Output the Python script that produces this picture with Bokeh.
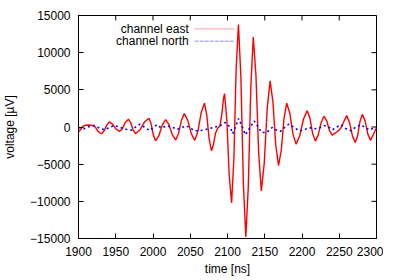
from bokeh.plotting import figure
from bokeh.models import FixedTicker, Range1d, Label, BoxAnnotation
from bokeh.embed import file_html
from bokeh.resources import INLINE

# ---- data ----
east_t = [1900, 1903, 1906, 1909, 1914, 1919, 1922, 1925, 1928, 1931,
          1934.5, 1938, 1941.5, 1946, 1950.5, 1955, 1959, 1963, 1967,
          1970.2, 1973.3, 1976.5, 1982.5, 1988.5, 1994.5, 1997.5, 2000.5,
          2003.5, 2008, 2012.5, 2017, 2021.5, 2026, 2030.5, 2034.3, 2038.2,
          2042, 2046.7, 2051.3, 2056, 2060.3, 2064.7, 2069, 2072.2, 2075.3,
          2078.5, 2081, 2084, 2087, 2090, 2092.5, 2094.5, 2096, 2099.2,
          2102.3, 2105.5, 2108.6, 2111.6, 2114.7, 2118, 2121.3, 2124.6,
          2127.9, 2131.3, 2134.6, 2138.2, 2141.8, 2145.4, 2149.3, 2153.3,
          2157.2, 2161, 2164.7, 2168.5, 2172.2, 2175.8, 2179.5, 2183.7,
          2187.8, 2192, 2197, 2202, 2207, 2210.7, 2214.3, 2218, 2221.8,
          2225.7, 2229.5, 2233.2, 2236.8, 2240.5, 2245, 2250, 2253, 2256.5,
          2260, 2263.8, 2267.7, 2271.5, 2274.7, 2277.8, 2281, 2284.7, 2288.3,
          2292, 2295, 2298, 2300]
east_v = [-700, -300, 100, 230, 260, 200, 50, -400, -750, -900,
          -505, 285, 680, 360, -280, -600, -188, 637, 1050,
          563, -412, -900, -380, 660, 1180, 423, -1092,
          -1850, -1138, 287, 1000, 313, -1062, -1750, -863, 912,
          1800, 900, -900, -1800, -550, 1950, 3200, 1600, -1600,
          -3200, -2400, -800, -150, 200, 1800, 3700, 4500, 825,
          -6525, -10200, -4200, 7800, 13800, 6650, -7650, -14800,
          -8075, 5375, 12100, 6925, -3425, -8600, -4900, 2500,
          6200, 3350, -2350, -5200, -3100, 1100, 3200, 1825,
          -925, -2300, -1175, 1075, 2200, 1175, -875, -1900, -1063,
          612, 1450, 813, -462, -1100, -800, -400, 0, 800,
          1530, 623, -1192, -2100, -1150, 750, 1700, 825, -925,
          -1800, -1200, -500, -100]

north_t = [1900, 1907.7, 1914.5, 1921, 1928, 1935, 1941.6, 1948.4, 1955,
           1962, 1971, 1977.7, 1982.3, 1989, 1995.8, 2000.3, 2005, 2011.6,
           2018.4, 2025, 2033, 2039, 2045, 2050, 2056, 2062, 2068, 2074,
           2081, 2090, 2097, 2104, 2107, 2111, 2115, 2119.5, 2124, 2130,
           2136, 2141, 2146, 2153, 2160, 2165, 2171, 2178, 2182.4, 2189,
           2196, 2203, 2209.6, 2216.4, 2223, 2230, 2236.7, 2241, 2248,
           2252.5, 2259.3, 2266, 2273, 2279.7, 2284.2, 2291, 2297.8, 2300]
north_v = [-70, -240, 70, 200, -150, -380, -70, 200, -20,
           -290, -420, 70, 380, -70, -470, -70, 290, -150,
           150, -20, -290, -50, 155, -150, -510, -500, -420, -250,
           -70, 155, 600, -70, -900, 100, 1150, 100, -1050, -100,
           800, 0, -750, -700, -70, -380, -600, 70, 380, -20,
           -510, -380, -70, -240, -150, 200, -70, -380, 70,
           290, -240, -510, 70, 290, -70, -380, -70, -20]

x_ticks = [1900, 1950, 2000, 2050, 2100, 2150, 2200, 2250, 2300]
y_ticks = [-15000, -10000, -5000, 0, 5000, 10000, 15000]
series_names = ["channel east", "channel north"]

FONT = "Liberation Sans"
X0, X1 = 1900, 2300
Y0, Y1 = -15000, 15000

p = figure(width=383, height=278, output_backend="svg", toolbar_location=None,
           x_range=Range1d(X0, X1), y_range=Range1d(Y0, Y1),
           min_border_left=75, min_border_right=7, min_border_top=15,
           min_border_bottom=38)
p.grid.visible = False
p.outline_line_color = "black"
p.outline_line_width = 1
p.background_fill_color = "white"
p.border_fill_color = "white"

p.line(east_t, east_v, line_color="#ff0000", line_width=1.4)
p.line(north_t, north_v, line_color="#0000ff", line_width=1.6, line_dash="2 3")

for ax in (p.xaxis[0], p.yaxis[0]):
    ax.major_tick_in = 5
    ax.major_tick_out = 0
    ax.minor_tick_line_color = None
    ax.axis_line_color = "black"
    ax.major_tick_line_color = "black"
    ax.major_label_text_font = FONT
    ax.major_label_text_font_size = "12px"
    ax.major_label_text_color = "black"
    ax.axis_label_text_font = FONT
    ax.axis_label_text_font_size = "12px"
    ax.axis_label_text_font_style = "normal"
    ax.axis_label_text_color = "black"

p.xaxis.ticker = FixedTicker(ticks=x_ticks)
p.yaxis.ticker = FixedTicker(ticks=y_ticks)
p.xaxis.axis_label = "time [ns]"
p.yaxis.axis_label = "voltage [µV]"
p.xaxis.major_label_standoff = 8
p.xaxis.axis_label_standoff = 3
p.yaxis.major_label_standoff = 8
p.yaxis.axis_label_standoff = 10

# mirrored inward ticks on the top and right frame edges
tick_dy = 5 * (Y1 - Y0) / 225.0
tick_dx = 5 * (X1 - X0) / 295.0
p.segment(x0=x_ticks, y0=[Y1] * len(x_ticks), x1=x_ticks,
          y1=[Y1 - tick_dy] * len(x_ticks), line_color="black", line_width=1)
p.segment(x0=[X1] * len(y_ticks), y0=y_ticks, x1=[X1 - tick_dx] * len(y_ticks),
          y1=y_ticks, line_color="black", line_width=1)

# legend (gnuplot style: text then sample on the right)
leg_text_x = 2048
leg_y = [13200, 11530]
leg_colors = ["#ff0000", "#0000ff"]
leg_dash = ["solid", "2 3"]
for name, yy, c, d in zip(series_names, leg_y, leg_colors, leg_dash):
    p.add_layout(Label(x=leg_text_x, y=yy, text=name, text_align="right",
                       text_baseline="middle", text_font=FONT,
                       text_font_size="12px", text_color="black"))
    p.add_layout(BoxAnnotation(left=2056, right=2109, top=yy, bottom=yy,
                               fill_alpha=0, line_color=c, line_width=1.4,
                               line_dash=d))

open("out.html", "w").write(file_html(p, INLINE))
